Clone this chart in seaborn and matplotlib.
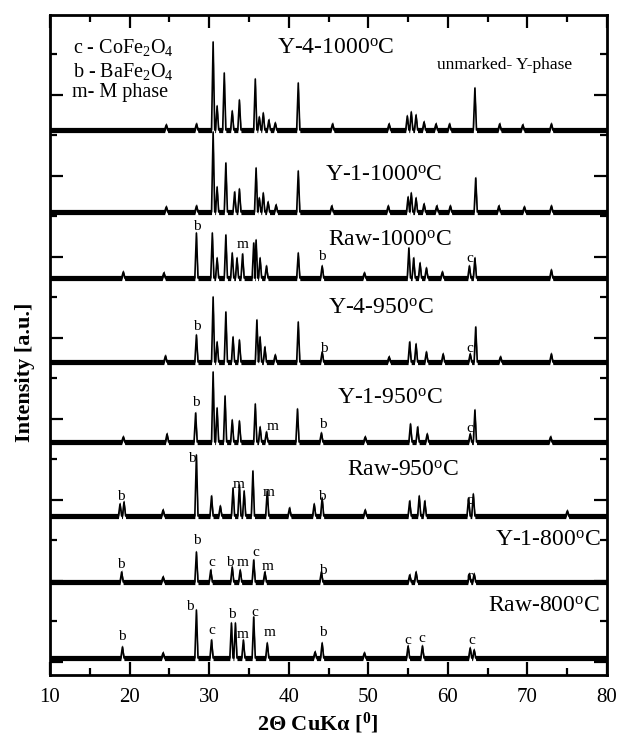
import numpy as np
import pandas as pd
import seaborn as sns
import matplotlib
matplotlib.use("Agg")
import matplotlib.pyplot as plt

# ---------------- data (2theta positions, peak heights, offsets) ----------------
trace_names = ["Y-4-1000", "Y-1-1000", "Raw-1000", "Y-4-950", "Y-1-950",
               "Raw-950", "Y-1-800", "Raw-800"]
trace_offsets = [545, 463, 397, 313, 233, 159, 93, 17]

y4_1000_pos = [24.6, 28.4, 30.5, 31.0, 31.9, 32.9, 33.8, 35.8, 36.3, 36.8, 37.5,
               38.3, 41.2, 45.5, 52.6, 54.9, 55.4, 56.0, 57.0, 58.5, 60.2, 63.4,
               66.5, 69.4, 73.0]
y4_1000_h = [5, 6, 88, 24, 57, 19, 30, 51, 13, 17, 10, 7, 47, 6, 6, 14, 18, 15,
             8, 6, 6, 42, 6, 5, 6]

y1_1000_pos = [24.6, 28.4, 30.5, 31.0, 32.1, 33.2, 33.8, 35.9, 36.3, 36.8, 37.4,
               38.4, 41.2, 45.4, 52.5, 55.0, 55.4, 56.0, 57.0, 58.6, 60.3, 63.5,
               66.4, 69.6, 73.0]
y1_1000_h = [5, 6, 80, 25, 49, 20, 23, 44, 14, 19, 10, 7, 41, 6, 6, 15, 19, 14,
             8, 6, 6, 34, 6, 5, 6]

raw1000_pos = [19.2, 24.3, 28.4, 30.4, 31.0, 32.1, 32.9, 33.5, 34.2, 35.6, 35.9,
               36.4, 37.2, 41.2, 44.2, 49.5, 55.1, 55.7, 56.5, 57.3, 59.3, 62.7,
               63.4, 73.0]
raw1000_h = [6, 5, 45, 45, 20, 43, 25, 20, 24, 35, 38, 20, 12, 25, 12, 5, 30, 20,
             15, 10, 6, 12, 20, 8]

y4_950_pos = [24.5, 28.4, 30.5, 31.0, 32.1, 33.0, 33.8, 36.0, 36.4, 37.0, 38.3,
              41.2, 44.2, 52.6, 55.2, 56.0, 57.3, 59.4, 62.8, 63.5, 66.6, 73.0]
y4_950_h = [6, 27, 65, 20, 50, 25, 22, 42, 25, 15, 7, 40, 10, 5, 20, 18, 10, 8,
            8, 35, 5, 8]

y1_950_pos = [19.2, 24.7, 28.3, 30.5, 31.0, 32.0, 32.9, 33.8, 35.8, 36.4, 37.2,
              41.1, 44.1, 49.6, 55.3, 56.2, 57.4, 62.8, 63.4, 72.9]
y1_950_h = [5, 8, 29, 70, 34, 46, 22, 21, 38, 15, 10, 33, 9, 5, 18, 15, 8, 8,
            32, 5]

raw950_pos = [18.8, 19.3, 24.2, 28.4, 30.3, 31.4, 33.0, 33.8, 34.4, 35.5, 37.3,
              40.1, 43.2, 44.2, 49.6, 55.2, 56.4, 57.1, 62.6, 63.2, 75.0]
raw950_h = [12, 14, 6, 61, 20, 10, 28, 31, 25, 45, 25, 8, 12, 18, 6, 15, 20, 15,
            18, 22, 5]

y1_800_pos = [19.0, 24.2, 28.4, 30.2, 32.9, 33.9, 35.6, 37.0, 44.1, 55.2, 56.0,
              62.7, 63.3]
y1_800_h = [10, 5, 30, 12, 15, 12, 22, 10, 10, 7, 10, 8, 8]

raw800_pos = [19.1, 24.2, 28.4, 30.3, 32.8, 33.3, 34.3, 35.6, 37.3, 43.3, 44.2,
              49.5, 55.0, 56.8, 62.8, 63.3]
raw800_h = [11, 5, 48, 18, 35, 35, 18, 41, 15, 6, 15, 5, 12, 12, 10, 8]

peak_sets = [(y4_1000_pos, y4_1000_h), (y1_1000_pos, y1_1000_h),
             (raw1000_pos, raw1000_h), (y4_950_pos, y4_950_h),
             (y1_950_pos, y1_950_h), (raw950_pos, raw950_h),
             (y1_800_pos, y1_800_h), (raw800_pos, raw800_h)]

# trace labels
label_texts = [r"Y-4-1000$^{\mathrm{o}}$C", r"Y-1-1000$^{\mathrm{o}}$C",
               r"Raw-1000$^{\mathrm{o}}$C", r"Y-4-950$^{\mathrm{o}}$C",
               r"Y-1-950$^{\mathrm{o}}$C", r"Raw-950$^{\mathrm{o}}$C",
               r"Y-1-800$^{\mathrm{o}}$C", r"Raw-800$^{\mathrm{o}}$C"]

# phase marks: letter, 2theta, pixel-row
mark_letters = ["b", "m", "b", "c",
                "b", "b", "c",
                "b", "m", "b", "c",
                "b", "b", "m", "m", "b", "c",
                "b", "b", "c", "b", "m", "c", "m", "b", "c",
                "b", "b", "c", "b", "m", "c", "m", "b", "c", "c", "c"]
mark_x = [28.47, 34.26, 44.18, 62.78,
          28.47, 44.4, 62.78,
          28.35, 38.03, 44.31, 62.78,
          18.92, 27.85, 33.75, 37.52, 44.18, 62.78,
          18.92, 28.47, 30.36, 32.62, 34.26, 35.89, 37.4, 44.31, 62.78,
          19.05, 27.6, 30.36, 32.87, 34.26, 35.76, 37.65, 44.31, 54.99, 56.75, 63.03]
mark_row = [226, 245, 257, 258,
            326, 348, 349,
            402, 427, 425, 428,
            497, 458, 485, 493, 497, 500,
            565, 540, 562, 562, 563, 553, 567, 570, 577,
            636, 607, 630, 615, 635, 612, 633, 633, 640, 638, 640]

# ---------------- style ----------------
sns.set_theme(style="ticks")
plt.rcParams["font.family"] = ["Liberation Serif", "DejaVu Serif"]
plt.rcParams["mathtext.fontset"] = "custom"
plt.rcParams["mathtext.rm"] = "Liberation Serif"
plt.rcParams["mathtext.it"] = "Liberation Serif:italic"
plt.rcParams["mathtext.bf"] = "Liberation Serif:bold"
plt.rcParams["text.color"] = "black"
plt.rcParams["axes.labelcolor"] = "black"

fig = plt.figure(figsize=(6.2, 7.43), dpi=100)
ax = fig.add_axes([50 / 620, 1 - 675 / 743, 557 / 620, 660 / 743])

XMIN, XMAX = 10, 80
HW = 0.2  # half width of a peak (degrees)

for (pos, hts), off in zip(peak_sets, trace_offsets):
    order = np.argsort(pos)
    xs = [XMIN]
    ys = [0.0]
    for i in order:
        p, h = pos[i], hts[i]
        xs += [p - HW, p, p + HW]
        ys += [0.0, h, 0.0]
    xs.append(XMAX)
    ys.append(0.0)
    xs = np.array(xs)
    ys = np.array(ys) + off
    df = pd.DataFrame({"x": xs, "y": ys})
    ax.fill_between(xs, ys - 2.6, ys + 2.6, color="black", lw=0)
    sns.lineplot(data=df, x="x", y="y", ax=ax, color="black", lw=1.2,
                 estimator=None, sort=False)

PX = 7.957
def px2x(px):
    return 10 + (px - 50) / PX

def py2y(py):
    return 675 - py

label_pos = [(277, 48, "left"), (325, 175, "left"), (328, 240, "left"),
             (328, 308, "left"), (337, 398, "left"), (347, 470, "left"),
             (600, 540, "right"), (600, 606, "right")]
for t, (px, py, ha) in zip(label_texts, label_pos):
    ax.text(px2x(px), py2y(py), t, fontsize=17, ha=ha, va="center")

for l, x, r in zip(mark_letters, mark_x, mark_row):
    ax.text(x, py2y(r), l, fontsize=11, ha="center", va="center")

# legend text
ax.text(px2x(73), py2y(48), r"c - CoFe$_{2}$O$_{4}$", fontsize=14.5, ha="left", va="center")
ax.text(px2x(73), py2y(71), r"b - BaFe$_{2}$O$_{4}$", fontsize=14.5, ha="left", va="center")
ax.text(px2x(72), py2y(93), "m- M phase", fontsize=14.5, ha="left", va="center")
ax.text(px2x(437), py2y(65), "unmarked- Y-phase", fontsize=12.5, ha="left", va="center")

# axes
ax.set_xlim(XMIN, XMAX)
ax.set_ylim(0, 660)
ax.set_xticks(np.arange(10, 81, 10))
ax.set_xticks(np.arange(15, 80, 10), minor=True)
ax.set_yticks(np.arange(13, 660, 81))
ax.set_yticks(np.arange(54, 660, 81), minor=True)
ax.set_yticklabels([])
ax.tick_params(axis="both", which="major", direction="in", length=9.5, width=1.6,
               top=True, right=True, labelsize=15, pad=9, colors="black")
ax.tick_params(axis="both", which="minor", direction="in", length=5, width=1.6,
               top=True, right=True, colors="black")
for s in ax.spines.values():
    s.set_linewidth(2.0)
    s.set_color("black")

ax.set_xlabel(r"2Θ CuKα [$^{\mathbf{0}}$]", fontsize=16, fontweight="bold")
ax.xaxis.set_label_coords(0.481, -0.054)
ax.set_ylabel("Intensity [a.u.]", fontsize=16, fontweight="bold")
ax.yaxis.set_label_coords(-0.027, 0.459)

fig.savefig("out.png", dpi=100)
